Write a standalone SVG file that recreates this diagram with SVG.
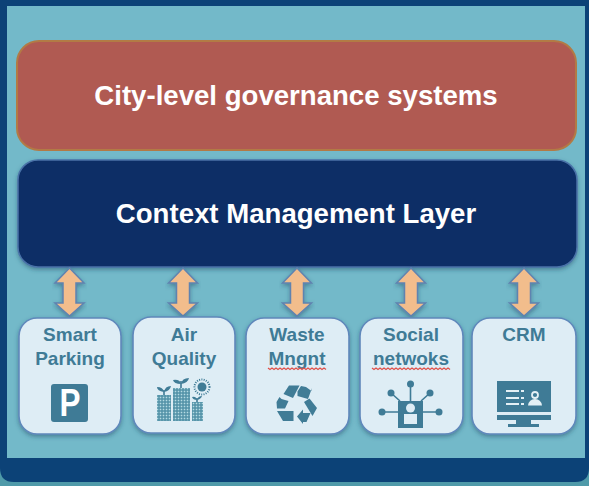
<svg xmlns="http://www.w3.org/2000/svg" width="589" height="486" viewBox="0 0 589 486">
  <defs>
    <filter id="sh" x="-10%" y="-10%" width="120%" height="125%">
      <feDropShadow dx="0" dy="2" stdDeviation="2" flood-color="#1d4a66" flood-opacity="0.5"/>
    </filter>
    <filter id="soft" x="-10%" y="-10%" width="120%" height="120%">
      <feGaussianBlur stdDeviation="0.35"/>
    </filter>
    <pattern id="win" width="3" height="3" patternUnits="userSpaceOnUse">
      <rect width="3" height="3" fill="#4f8fa6"/>
      <rect x="0.7" y="0.7" width="1.6" height="1.6" fill="#b5dbe3"/>
    </pattern>
    <path id="dblArrow" d="M0-24L14.500-9H6.500V11H14.500L0 24L-14.500 11H-6.500V-9H-14.500Z"/>
  </defs>
  <style>
    .ttl{font:bold 27.600px "Liberation Sans",Arial,sans-serif;fill:#fff;text-anchor:middle}
    .lbl{font:bold 19px "Liberation Sans",Arial,sans-serif;fill:#3f7b96;text-anchor:middle}
    .card{fill:#deedf5;stroke:#5f88bb;stroke-width:1.600;filter:url(#sh)}
    .arr{fill:#f2bd8c;stroke:#5f83b0;stroke-width:1.500;filter:url(#sh)}
    .ic{fill:#3f7b96}
    .icl{stroke:#3f7b96;stroke-width:1.600;fill:none}
    .sq{fill:none;stroke:#e0504a;stroke-width:1.200}
  </style>

  <rect width="589" height="486" fill="#4f9aa9"/>
  <path d="M0 0H589V468Q589 482 575 482H14Q0 482 0 468Z" fill="#0c4277"/>
  <rect x="7" y="6" width="578" height="452" fill="#73b9c9"/>

  <g id="governance">
    <rect x="17" y="41" width="559" height="109" rx="22" fill="#b05a52" stroke="#b27a45" stroke-width="2"/>
    <text class="ttl" x="296" y="105">City-level governance systems</text>
  </g>
  <g id="context">
    <rect x="18" y="160" width="559" height="107" rx="20" fill="#0d2f66" stroke="#4a72a8" stroke-width="1.500" style="filter:url(#sh)"/>
    <text class="ttl" x="296" y="223">Context Management Layer</text>
  </g>

  <g id="connectors">
    <use href="#dblArrow" class="arr" x="69.500" y="292"/>
    <use href="#dblArrow" class="arr" x="183" y="292"/>
    <use href="#dblArrow" class="arr" x="297" y="292"/>
    <use href="#dblArrow" class="arr" x="411" y="292"/>
    <use href="#dblArrow" class="arr" x="524" y="292"/>
  </g>

  <g id="smart-parking">
    <rect class="card" x="19" y="318" width="102" height="116" rx="18"/>
    <text class="lbl" x="70" y="341">Smart</text>
    <text class="lbl" x="70" y="365">Parking</text>
    <rect class="ic" x="51" y="384" width="37" height="38" rx="3"/>
    <text x="70" y="416" font-family="'Liberation Sans',Arial,sans-serif" font-weight="bold" font-size="38" fill="#fff" text-anchor="middle" textLength="21" lengthAdjust="spacingAndGlyphs">P</text>
  </g>

  <g id="air-quality">
    <rect class="card" x="133" y="317" width="102" height="116" rx="18"/>
    <text class="lbl" x="184" y="341">Air</text>
    <text class="lbl" x="184" y="365">Quality</text>
    <g filter="url(#soft)">
      <rect x="157" y="395" width="14" height="26" fill="url(#win)"/>
      <rect x="173" y="388" width="17" height="33" fill="url(#win)"/>
      <rect x="192" y="402" width="11" height="19" fill="url(#win)"/>
      <path class="icl" d="M164 395V390M181 388V381M197 402V398"/>
      <path class="ic" d="M164 392Q157 391 157 387Q163 387 164 392ZM164 392Q165 386 171 386Q170 391 164 392Z"/>
      <path class="ic" d="M181 384Q174 384 173 380Q180 379 181 384ZM181 384Q182 378 189 378Q188 383 181 384Z"/>
      <path class="ic" d="M197 400Q193 400 192 397Q196 396 197 400ZM197 400Q198 396 202 396Q201 399 197 400Z"/>
      <circle class="ic" cx="202" cy="387" r="4.500"/>
      <circle cx="202" cy="387" r="7.500" fill="none" stroke="#3f7b96" stroke-width="2" stroke-dasharray="1 1.300"/>
    </g>
  </g>

  <g id="waste">
    <rect class="card" x="246" y="318" width="103" height="116" rx="18"/>
    <text class="lbl" x="297" y="341">Waste</text>
    <text class="lbl" x="297" y="365">Mngnt</text>
    <path class="sq" d="M268 368l2 1.500 2-1.500 2 1.500 2-1.500 2 1.500 2-1.500 2 1.500 2-1.500 2 1.500 2-1.500 2 1.500 2-1.500 2 1.500 2-1.500 2 1.500 2-1.500 2 1.500 2-1.500 2 1.500 2-1.500 2 1.500 2-1.500 2 1.500 2-1.500 2 1.500 2-1.500 2 1.500 2-1.500 2 1.500"/>
    <g class="ic" filter="url(#soft)">
      <polygon points="283.500,394 289,385.500 299.500,385.500 293,398"/>
      <polygon points="297.500,391.500 301,386 306,387 311.500,391 312,388 308,399 297.500,396"/>
      <polygon points="309.500,398.500 317,408 312.500,416 304,402"/>
      <polygon points="297,416.500 303,409.500 303,413 310.500,413 306.500,422 303,422 303,424"/>
      <polygon points="277,411 293.500,411 293.500,421 283,421"/>
      <polygon points="279.500,397 281.500,399 288.500,401 285,408.500 277,408.500 276.500,402"/>
    </g>
  </g>

  <g id="social">
    <rect class="card" x="360" y="318" width="103" height="116" rx="18"/>
    <text class="lbl" x="411" y="341">Social</text>
    <text class="lbl" x="411" y="365">netwoks</text>
    <path class="sq" d="M372 368l2 1.500 2-1.500 2 1.500 2-1.500 2 1.500 2-1.500 2 1.500 2-1.500 2 1.500 2-1.500 2 1.500 2-1.500 2 1.500 2-1.500 2 1.500 2-1.500 2 1.500 2-1.500 2 1.500 2-1.500 2 1.500 2-1.500 2 1.500 2-1.500 2 1.500 2-1.500 2 1.500 2-1.500 2 1.500 2-1.500 2 1.500 2-1.500 2 1.500 2-1.500 2 1.500 2-1.500 2 1.500 2-1.500 2 1.500"/>
    <path class="icl" d="M410.500 384V401M391 393L400 401M430 393L421 401M382 412H439"/>
    <circle class="ic" cx="410.500" cy="384" r="3.500"/>
    <circle class="ic" cx="391" cy="393" r="3.500"/>
    <circle class="ic" cx="430" cy="393" r="3.500"/>
    <circle class="ic" cx="382" cy="412" r="3.500"/>
    <circle class="ic" cx="439" cy="412" r="3.500"/>
    <rect class="ic" x="398" y="401" width="25" height="27"/>
    <circle cx="410.500" cy="408" r="4.500" fill="#deedf5"/>
    <rect x="404" y="414" width="13" height="10" fill="#deedf5"/>
  </g>

  <g id="crm">
    <rect class="card" x="472" y="318" width="104" height="116" rx="18"/>
    <text class="lbl" x="524" y="341">CRM</text>
    <rect class="ic" x="497" y="381" width="54" height="31"/>
    <rect class="ic" x="497" y="415" width="54" height="5"/>
    <rect class="ic" x="516" y="420" width="15" height="4"/>
    <rect class="ic" x="508" y="424" width="31" height="3"/>
    <path d="M506 391H519M506 398H519M506 404H519M521 391H524M521 398H524M521 404H524" stroke="#e4f0f5" stroke-width="2" fill="none"/>
    <circle cx="535" cy="395" r="3" fill="none" stroke="#e4f0f5" stroke-width="1.800"/>
    <path d="M528 405.500Q529 399 535 399Q541 399 542 405.500Z" fill="#e4f0f5"/>
  </g>
</svg>
